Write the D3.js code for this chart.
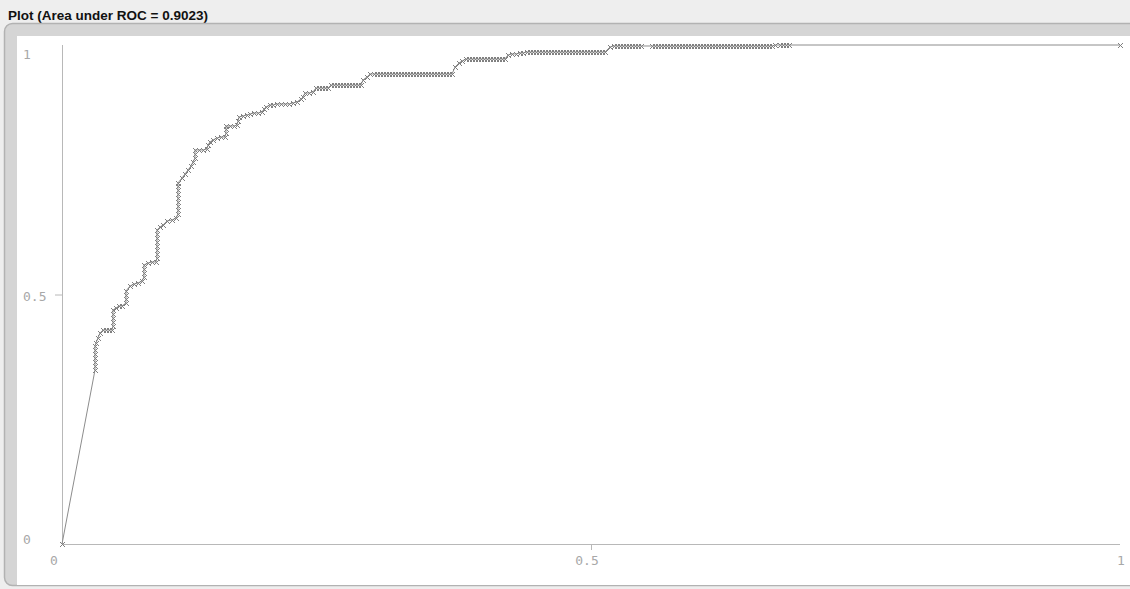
<!DOCTYPE html>
<html>
<head>
<meta charset="utf-8">
<script src="https://cdn.jsdelivr.net/npm/d3@7"></script>
<style>
  html, body { margin: 0; padding: 0; background: #eeeeee; }
  svg { display: block; }
</style>
</head>
<body>
<svg id="chart" width="1130" height="589"></svg>
<script>
// ---- data ----
const title = "Plot (Area under ROC = 0.9023)";
const xTicks = [0, 0.5, 1];
const yTicks = [0, 0.5, 1];
const xTickLabels = ["0", "0.5", "1"];
const yTickLabels = ["0", "0.5", "1"];

// False positive rate (x) of each threshold point
const fpr = [
  0,
  .0312, .0312, .0312, .0312, .0312, .0312, .0312, .0321, .0340, .0359,
  .0388, .0416, .0444, .0473, .0482, .0482, .0482, .0482, .0482, .0510,
  .0539, .0567, .0605, .0605, .0605, .0605, .0643, .0681, .0718, .0756,
  .0775, .0775, .0775, .0775, .0813, .0851, .0888, .0898, .0898, .0898,
  .0898, .0898, .0898, .0898, .0898, .0926, .0955, .0992, .1040, .1078,
  .1096, .1096, .1096, .1096, .1096, .1096, .1096, .1096, .1096, .1134,
  .1163, .1191, .1219, .1238, .1257, .1257, .1257, .1295, .1333, .1371,
  .1380, .1399, .1427, .1465, .1503, .1541, .1550, .1550, .1550, .1588,
  .1626, .1654, .1664, .1673, .1711, .1749, .1777, .1815, .1853, .1890,
  .1909, .1928, .1966, .1994, .2032, .2070, .2108, .2146, .2183, .2221,
  .2259, .2278, .2297, .2335, .2372, .2401, .2429, .2457, .2486, .2514,
  .2543, .2571, .2599, .2628, .2656, .2684, .2713, .2741, .2769, .2798,
  .2826, .2845, .2883, .2911, .2949, .2977, .3006, .3034, .3062, .3091,
  .3119, .3147, .3176, .3204, .3233, .3261, .3289, .3318, .3346, .3374,
  .3403, .3431, .3459, .3488, .3516, .3544, .3573, .3601, .3629, .3658,
  .3686, .3715, .3752, .3781, .3819, .3847, .3875, .3904, .3932, .3960,
  .3989, .4017, .4045, .4074, .4102, .4130, .4159, .4187, .4216, .4253,
  .4291, .4329, .4357, .4395, .4423, .4452, .4480, .4509, .4537, .4565,
  .4594, .4622, .4650, .4679, .4707, .4735, .4764, .4792, .4820, .4849,
  .4877, .4905, .4934, .4962, .4991, .5019, .5047, .5076, .5104, .5132,
  .5180, .5217, .5246, .5274, .5302, .5331, .5359, .5388, .5416, .5444,
  .5473, .5577, .5605, .5633, .5662, .5690, .5718, .5747, .5775, .5803,
  .5832, .5860, .5888, .5917, .5945, .5974, .6002, .6030, .6059, .6087,
  .6115, .6144, .6172, .6200, .6229, .6257, .6285, .6314, .6342, .6371,
  .6399, .6427, .6456, .6484, .6512, .6541, .6569, .6597, .6626, .6654,
  .6682, .6711, .6739, .6786, .6815, .6843, .6871, 1
];

// True positive rate (y) of each threshold point
const tpr = [
  0,
  .3487, .3567, .3647, .3727, .3808, .3888, .3968, .4028, .4128, .4228,
  .4289, .4289, .4289, .4289, .4369, .4449, .4529, .4609, .4689, .4729,
  .4770, .4770, .4830, .4910, .4990, .5070, .5170, .5210, .5230, .5271,
  .5351, .5431, .5511, .5591, .5631, .5651, .5651, .5731, .5812, .5892,
  .5972, .6052, .6132, .6212, .6293, .6353, .6393, .6473, .6493, .6533,
  .6613, .6693, .6774, .6854, .6934, .7014, .7094, .7174, .7234, .7335,
  .7415, .7495, .7575, .7655, .7735, .7816, .7896, .7896, .7896, .7916,
  .7996, .8056, .8096, .8136, .8156, .8156, .8236, .8317, .8377, .8377,
  .8377, .8397, .8477, .8557, .8577, .8597, .8617, .8637, .8637, .8657,
  .8717, .8758, .8798, .8798, .8818, .8818, .8818, .8818, .8838, .8858,
  .8918, .8958, .9038, .9038, .9058, .9138, .9138, .9138, .9138, .9138,
  .9198, .9198, .9198, .9198, .9198, .9198, .9198, .9198, .9198, .9198,
  .9198, .9299, .9359, .9419, .9419, .9419, .9419, .9419, .9419, .9419,
  .9419, .9419, .9419, .9419, .9419, .9419, .9419, .9419, .9419, .9419,
  .9419, .9419, .9419, .9419, .9419, .9419, .9419, .9419, .9419, .9419,
  .9419, .9559, .9639, .9679, .9719, .9719, .9719, .9719, .9719, .9719,
  .9719, .9719, .9719, .9719, .9719, .9719, .9719, .9719, .9800, .9820,
  .9820, .9840, .9840, .9860, .9860, .9860, .9860, .9860, .9860, .9860,
  .9860, .9860, .9860, .9860, .9860, .9860, .9860, .9860, .9860, .9860,
  .9860, .9860, .9860, .9860, .9860, .9860, .9860, .9860, .9860, .9860,
  .9960, .9980, .9980, .9980, .9980, .9980, .9980, .9980, .9980, .9980,
  .9980, .9980, .9980, .9980, .9980, .9980, .9980, .9980, .9980, .9980,
  .9980, .9980, .9980, .9980, .9980, .9980, .9980, .9980, .9980, .9980,
  .9980, .9980, .9980, .9980, .9980, .9980, .9980, .9980, .9980, .9980,
  .9980, .9980, .9980, .9980, .9980, .9980, .9980, .9980, .9980, .9980,
  .9980, .9980, 1, 1, 1, 1, 1, 1
];

// ---- drawing ----
const svg = d3.select("#chart");
const W = 1130, H = 589;

// window chrome
svg.append("rect").attr("x", 0).attr("y", 0).attr("width", W).attr("height", H).attr("fill", "#eeeeee");
svg.append("text").attr("x", 8).attr("y", 20)
  .attr("font-family", "Liberation Sans, Arial, sans-serif")
  .attr("font-weight", "bold").attr("font-size", 13.5).attr("fill", "#111")
  .text(title);
svg.append("rect").attr("x", 4.5).attr("y", 23.5).attr("width", W + 20).attr("height", H - 27)
  .attr("rx", 8).attr("ry", 8)
  .attr("fill", "#d5d5d5").attr("stroke", "#b2b2b2").attr("stroke-width", 1.5);
svg.append("rect").attr("x", 17).attr("y", 36).attr("width", W - 17).attr("height", 549)
  .attr("fill", "#ffffff");

const x = d3.scaleLinear().domain([0, 1]).range([62, 1120]);
const y = d3.scaleLinear().domain([0, 1]).range([544, 45]);

const axisColor = "#b8b8b8";
const labelColor = "#a8a8a8";
const monoFont = "DejaVu Sans Mono, monospace";

// axes lines
svg.append("line").attr("x1", x(0)).attr("x2", x(1)).attr("y1", y(0) + 0.5).attr("y2", y(0) + 0.5)
  .attr("stroke", axisColor).attr("stroke-width", 1);
svg.append("line").attr("x1", x(0) + 0.5).attr("x2", x(0) + 0.5).attr("y1", y(0)).attr("y2", y(1))
  .attr("stroke", axisColor).attr("stroke-width", 1);

// tick marks (only middle ticks visible)
svg.append("line").attr("x1", x(0.5) + 0.5).attr("x2", x(0.5) + 0.5).attr("y1", y(0)).attr("y2", y(0) + 6)
  .attr("stroke", axisColor);
svg.append("line").attr("x1", x(0) - 7).attr("x2", x(0)).attr("y1", y(0.5) + 0.5).attr("y2", y(0.5) + 0.5)
  .attr("stroke", axisColor);

// x tick labels
const xLabelDx = [-8, -4, 1];
svg.selectAll("text.xl").data(xTicks).enter().append("text")
  .attr("class", "xl")
  .attr("x", (d, i) => x(d) + xLabelDx[i]).attr("y", 565)
  .attr("text-anchor", "middle")
  .attr("font-family", monoFont).attr("font-size", 13).attr("fill", labelColor)
  .text((d, i) => xTickLabels[i]);

// y tick labels
const yLabelDy = [0, 6, 14];
svg.selectAll("text.yl").data(yTicks).enter().append("text")
  .attr("class", "yl")
  .attr("x", 23).attr("y", (d, i) => y(d) + yLabelDy[i])
  .attr("font-family", monoFont).attr("font-size", 13).attr("fill", labelColor)
  .text((d, i) => yTickLabels[i]);

// curve
const pts = fpr.map((v, i) => [v, tpr[i]]);
const line = d3.line().x(d => x(d[0])).y(d => y(d[1]));
svg.append("path").datum(pts).attr("d", line)
  .attr("fill", "none").attr("stroke", "#8c8c8c").attr("stroke-width", 1);

// cross markers
const s = 2.5;
svg.append("g").selectAll("path").data(pts).enter().append("path")
  .attr("d", d => {
    const cx = Math.round(x(d[0])) + 0.5, cy = Math.round(y(d[1])) + 0.5;
    return `M${cx - s},${cy - s}L${cx + s},${cy + s}M${cx - s},${cy + s}L${cx + s},${cy - s}`;
  })
  .attr("fill", "none").attr("stroke", "#808080").attr("stroke-width", 1);
</script>
</body>
</html>
